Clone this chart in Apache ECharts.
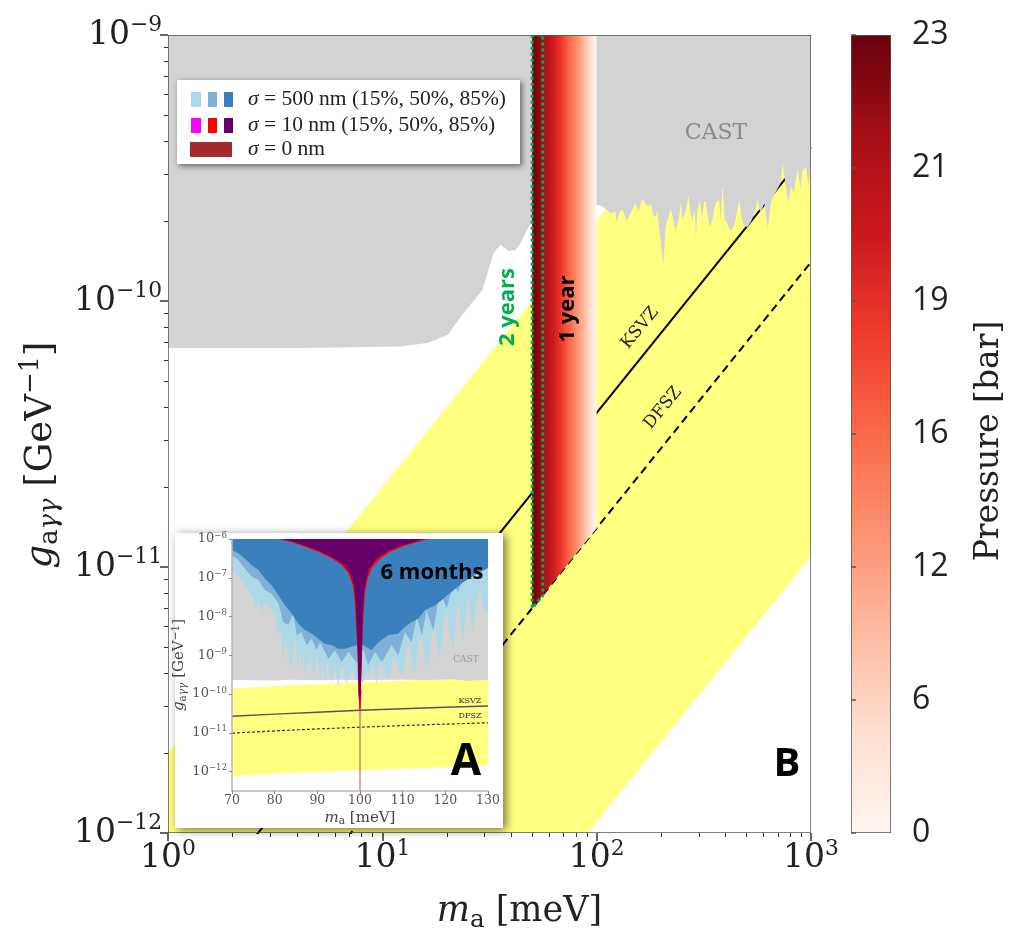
<!DOCTYPE html>
<html>
<head>
<meta charset="utf-8">
<title>Axion limits</title>
<script src="https://cdn.jsdelivr.net/npm/echarts@6/dist/echarts.min.js"></script>
<style>
html, body { margin: 0; padding: 0; background: #fff; }
#chart { width: 1014px; height: 939px; }
</style>
</head>
<body>
<div id="chart"></div>
<script>
"use strict";
// main panel (B): ma in meV, g in 1/GeV
var axionMass = [1, 1000];
var ksvzG = [3.8e-13, 3.8e-10];
var dfszG = [1.4e-13, 1.4e-10];
var bandUpperG = [2e-12, 2e-9];
var bandLowerG = [1.1e-14, 1.1e-11];

// CAST limit, read as decades off the log axes
var castLogMass = [0, 0.617, 1.084, 1.21, 1.304, 1.379, 1.467, 1.495, 1.519, 1.551, 1.589, 1.621, 1.645, 1.682, 1.7, 2.0,
    2.011, 2.027, 2.055, 2.07, 2.086, 2.093, 2.108, 2.123, 2.139, 2.159, 2.179, 2.195, 2.213, 2.229, 2.245, 2.252, 2.263, 2.276, 2.283, 2.291, 2.311, 2.322, 2.346, 2.369, 2.385, 2.393, 2.4, 2.419, 2.428, 2.439, 2.447, 2.458, 2.463, 2.47, 2.481, 2.491, 2.502,
    2.509, 2.517, 2.525, 2.541, 2.548, 2.559, 2.572, 2.579, 2.587, 2.598, 2.607, 2.618, 2.626, 2.642, 2.657, 2.665, 2.676, 2.688, 2.704, 2.72, 2.743, 2.751, 2.763, 2.782, 2.798, 2.813, 2.836, 2.857, 2.868, 2.879, 2.894, 2.907, 2.919, 2.938, 2.95, 2.961, 2.977, 2.988, 3];
var castLogG = [-10.177, -10.177, -10.171, -10.158, -10.128, -10.045, -9.959, -9.883, -9.82, -9.789, -9.812, -9.808, -9.782, -9.722, -9.7, -9.64,
    -9.639, -9.643, -9.664, -9.67, -9.662, -9.702, -9.664, -9.658, -9.699, -9.67, -9.633, -9.662, -9.617, -9.635, -9.645, -9.633, -9.677, -9.683, -9.658, -9.72, -9.865, -9.72, -9.652, -9.739, -9.683, -9.627, -9.696, -9.652, -9.602, -9.67, -9.698, -9.658, -9.761, -9.664, -9.62, -9.689, -9.623,
    -9.627, -9.67, -9.721, -9.696, -9.652, -9.627, -9.62, -9.702, -9.564, -9.696, -9.702, -9.727, -9.739, -9.714, -9.658, -9.62, -9.683, -9.721, -9.721, -9.702, -9.652, -9.614, -9.67, -9.633, -9.727, -9.627, -9.589, -9.558, -9.482, -9.551, -9.63, -9.57, -9.595, -9.501, -9.576, -9.507, -9.495, -9.568, -9.489];

// 1 year strip and 2 years outline
var stripMass = [50, 56.25, 62.5, 68.75, 75, 81.25, 87.5, 93.75, 100];
var stripColors = ['#67000d', '#a50f15', '#cb181d', '#ef3b2c', '#fb6a4a', '#fc9272', '#fcbba1', '#fee0d2', '#fff5f0'];
var stripFloorG = [7e-12, 1.4e-11];
var twoYearMass = [50, 56];
var twoYearFloorG = [7e-12, 7.8e-12];

// colour bar
var pressureTicks = ['0', '6', '12', '16', '19', '21', '23'];

// inset panel (A)
var insetMass = [70, 80, 90, 100, 110, 120, 130];
var insetKsvzG = [2.66e-11, 3.04e-11, 3.42e-11, 3.8e-11, 4.18e-11, 4.56e-11, 4.94e-11];
var insetDfszG = [0.98e-11, 1.12e-11, 1.26e-11, 1.4e-11, 1.54e-11, 1.68e-11, 1.82e-11];
var insetBandUpperG = [1.4e-10, 1.6e-10, 1.8e-10, 2e-10, 2.2e-10, 2.4e-10, 2.6e-10];
var insetBandLowerG = [0.77e-12, 0.88e-12, 0.99e-12, 1.1e-12, 1.21e-12, 1.32e-12, 1.43e-12];
var insetCastMass = [70, 80, 84, 90, 95, 100, 110, 116, 122, 125, 130];
var insetCastLogG = [-9.64, -9.65, -9.63, -9.645, -9.63, -9.64, -9.63, -9.635, -9.62, -9.655, -9.63];

var light500Mass = [70, 71.5, 73, 74.6, 75.8, 76.2, 77, 77.7, 78.9, 80.1, 80.9, 81.2, 81.7, 82, 82.4, 82.9, 83.2, 83.6, 84, 84.4, 84.8, 85.2, 85.5, 86, 86.3, 86.7, 87.1, 87.6, 88, 88.3, 88.8, 89.4, 89.8, 90.2, 90.7, 91.2, 91.8, 92.2, 92.6, 93.2, 93.7, 94.3, 94.9, 95.5, 96.1, 96.7, 97.3, 98.2, 99.2,
    100.8, 101.5, 102.3, 103.1, 103.9, 104.7, 105.5, 106.2, 107, 107.8, 108.6, 109.4, 110.2, 111, 111.7, 112.3, 112.9, 113.7, 114.5, 115.2, 116, 116.8, 117.6, 118.2, 118.7, 119.5, 120.3, 121.1, 121.9, 122.5, 123, 123.6, 124.2, 124.8, 125.4, 126, 126.5, 127.3, 128.1, 129, 130];
var light500LogG = [-6.8, -6.97, -7.19, -7.45, -7.79, -7.58, -7.92, -7.62, -7.79, -7.97, -8.57, -8.22, -8.7, -9.17, -8.6, -8.9, -8.83, -9.3, -9.26, -8.7, -8.48, -9.1, -9.52, -8.9, -9.4, -8.91, -9.6, -9, -9.4, -8.83, -9.3, -9.52, -9, -9.17, -9.6, -9.2, -9.69, -9.2, -9.26, -9.7, -9.52, -9.3, -9.82, -9.3, -9.34, -9.7, -9.6, -9.4, -9.65,
    -9.69, -9.4, -9.52, -9.2, -9.73, -9.1, -9.34, -9.55, -9.6, -9, -9.17, -9.45, -9.52, -8.7, -8.83, -9.3, -9.47, -8.7, -8.48, -9.1, -9.3, -8.4, -8.23, -8.8, -9.08, -8.3, -7.79, -8.5, -8.83, -8, -7.58, -8.2, -8.57, -7.9, -7.45, -8.1, -8.4, -7.6, -7.36, -7.8, -7.97];
var mid500Mass = [70, 71.5, 73, 74.6, 76.2, 77.7, 79.3, 80.9, 82, 83.2, 84.4, 85.2, 86.3, 87.5, 88.7, 89.8, 90.6, 92.6, 94.1, 95.7, 97.3, 99.2,
    100.8, 101.9, 103.5, 105.1, 107.4, 109, 110.5, 112.1, 113.3, 114.5, 115.6, 117.2, 118.7, 120.3, 121.9, 123, 124.6, 126.2, 127.7, 130];
var mid500LogG = [-6.41, -6.54, -6.76, -6.97, -7.06, -7.32, -7.41, -7.66, -8.14, -8.22, -7.92, -8.48, -8.4, -8.74, -8.57, -8.87, -8.66, -9.09, -8.87, -9.17, -8.91, -9.2,
    -8.83, -9.26, -8.91, -9.17, -8.74, -9, -8.4, -8.66, -8, -8.48, -7.84, -8.36, -7.32, -7.79, -7.15, -7.36, -6.85, -7.05, -6.5, -6.55];
var dark500Mass = [70, 71.5, 73, 74.6, 76.2, 77.7, 79.3, 80.9, 82.4, 84, 85.5, 87.1, 88.7, 90.2, 91.8, 93.4, 94.9, 96.5, 98, 99.2,
    100.8, 102.7, 104.3, 106.6, 109, 110.5, 112.1, 113.7, 115.2, 117.6, 119.1, 121.5, 123.8, 126.2, 130];
var dark500LogG = [-6.29, -6.37, -6.5, -6.67, -6.8, -7.02, -7.19, -7.45, -7.71, -7.92, -8.18, -8.35, -8.44, -8.57, -8.7, -8.74, -8.83, -8.83, -8.78, -8.74,
    -8.74, -8.87, -8.66, -8.48, -8.44, -8.27, -8.14, -8.05, -7.84, -7.71, -7.58, -7.36, -7.15, -6.97, -6.75];
var funnelMass = [80.86, 84, 87.1, 90.2, 93.4, 95.7, 97.3, 98.3, 98.8, 99.1, 99.4, 99.5, 99.6, 99.9, 100.1, 100.2, 100.4, 100.55, 100.8, 101.2, 101.8, 102.7, 104.7, 107.4, 110.5, 113.7, 116];
var funnelLogG = [-6, -6.087, -6.199, -6.328, -6.5, -6.673, -6.888, -7.19, -7.621, -8.311, -8.914, -9.518, -9.949, -10.42, -10.42, -9.949, -9.345, -8.742, -7.966, -7.362, -7.018, -6.759, -6.5, -6.311, -6.173, -6.069, -6];
var coreMass = [81.8, 84.8, 87.8, 90.9, 94, 96.2, 97.7, 98.6, 99, 99.25, 99.5, 99.6, 99.7, 99.95, 100.05, 100.15, 100.3, 100.45, 100.65, 101, 101.5, 102.2, 104, 106.6, 109.7, 112.8, 115];
var coreLogG = [-6, -6.087, -6.199, -6.328, -6.5, -6.673, -6.888, -7.19, -7.621, -8.311, -8.914, -9.518, -9.949, -10.18, -10.18, -9.949, -9.345, -8.742, -7.966, -7.362, -7.018, -6.759, -6.5, -6.311, -6.173, -6.069, -6];
var tipMass = [99.6, 100, 100.4];
var tipLogG = [-9.9, -10.55, -9.9];
var zeroWidthG = [1e-6, 3.2e-13];

var MAIN_TICKS_X = [1, 10, 100, 1000];
var MAIN_TICKS_Y = [1e-12, 1e-11, 1e-10, 1e-9];
var MINOR_X = [2, 3, 4, 5, 6, 7, 8, 9, 20, 30, 40, 50, 60, 70, 80, 90, 200, 300, 400, 500, 600, 700, 800, 900];
var MINOR_Y = [2e-12, 3e-12, 4e-12, 5e-12, 6e-12, 7e-12, 8e-12, 9e-12, 2e-11, 3e-11, 4e-11, 5e-11, 6e-11, 7e-11, 8e-11, 9e-11, 2e-10, 3e-10, 4e-10, 5e-10, 6e-10, 7e-10, 8e-10, 9e-10];
var INSET_TICKS_Y = [1e-12, 1e-11, 1e-10, 1e-9, 1e-8, 1e-7, 1e-6];

var SERIF = '"DejaVu Serif", serif';
var TIMES = '"Liberation Serif", serif';
var SANS = '"Open Sans", sans-serif';
var INK = '#222';

function pow10(list) {
    return list.map(function (v) { return Math.pow(10, v); });
}

// one closed polygon from lists of values, through the axes of the panel it sits in
function polygon(axisIndex, xs, ys, style, z) {
    return {
        type: 'custom',
        coordinateSystem: 'cartesian2d',
        xAxisIndex: axisIndex,
        yAxisIndex: axisIndex,
        clip: true,
        silent: true,
        z: z,
        data: xs.map(function (x, i) { return [x, ys[i]]; }),
        renderItem: function (params, api) {
            if (params.dataIndex !== 0) return null;
            return {
                type: 'polygon',
                shape: { points: xs.map(function (x, i) { return api.coord([x, ys[i]]); }) },
                style: style
            };
        }
    };
}

function line(axisIndex, xs, ys, color, width, dash, z) {
    return {
        type: 'line',
        xAxisIndex: axisIndex,
        yAxisIndex: axisIndex,
        showSymbol: false,
        silent: true,
        z: z,
        lineStyle: { color: color, width: width, type: dash || 'solid' },
        data: xs.map(function (x, i) { return [x, ys[i]]; })
    };
}

function decadeLabel(v) {
    var e = Math.round(Math.log10(v));
    return '{b|10}{e|' + (e < 0 ? '\u2212' + (-e) : e) + '}';
}

function decadeRich(size, color) {
    return {
        b: { fontFamily: SERIF, fontSize: size, color: color, lineHeight: size * 1.25 },
        e: { fontFamily: SERIF, fontSize: size * 0.66, color: color, verticalAlign: 'top', lineHeight: size * 0.8 }
    };
}

function massRich(size, color) {
    return {
        i: { fontFamily: SERIF, fontStyle: 'italic', fontSize: size, color: color },
        s: { fontFamily: SERIF, fontSize: size * 0.7, color: color, verticalAlign: 'bottom', lineHeight: size * 1.2 },
        r: { fontFamily: SERIF, fontSize: size, color: color }
    };
}

function couplingRich(size, color) {
    return {
        i: { fontFamily: SERIF, fontStyle: 'italic', fontSize: size, color: color },
        s: { fontFamily: SERIF, fontSize: size * 0.7, color: color, verticalAlign: 'bottom', lineHeight: size * 1.2 },
        si: { fontFamily: SERIF, fontStyle: 'italic', fontSize: size * 0.7, color: color, verticalAlign: 'bottom', lineHeight: size * 1.2 },
        r: { fontFamily: SERIF, fontSize: size, color: color },
        u: { fontFamily: SERIF, fontSize: size * 0.7, color: color, verticalAlign: 'top', lineHeight: size * 1.2 }
    };
}

var MASS_NAME = '{i|m}{s|a}{r|\u00a0[meV]}';
var COUPLING_NAME = '{i|g}{s|a}{si|\u03b3\u03b3}{r|\u00a0[GeV}{u|\u22121}{r|]}';

function hiddenAxis(gridIndex, type, extra) {
    return Object.assign({
        gridIndex: gridIndex,
        type: type,
        axisLine: { show: false },
        axisTick: { show: false },
        axisLabel: { show: false },
        splitLine: { show: false },
        minorTick: { show: false },
        minorSplitLine: { show: false }
    }, extra);
}

var legendText = [
    { text: '{i|\u03c3} = 500 nm (15%, 50%, 85%)', y: 99 },
    { text: '{i|\u03c3} = 10 nm (15%, 50%, 85%)', y: 125 },
    { text: '{i|\u03c3} = 0 nm', y: 149 }
];
var legendSwatches = [
    { x: 191, y: 92, w: 10, h: 15, c: '#add8e6' },
    { x: 208, y: 92, w: 9, h: 15, c: '#7fb0d8' },
    { x: 224, y: 92, w: 9, h: 15, c: '#3a80bd' },
    { x: 191, y: 118, w: 10, h: 15, c: '#ff00ff' },
    { x: 208, y: 118, w: 9, h: 15, c: '#ff0000' },
    { x: 224, y: 118, w: 9, h: 15, c: '#660066' },
    { x: 190, y: 142, w: 42, h: 15, c: '#a52a2a' }
];

function label(text, x, y, font, color, rotation, z) {
    return {
        type: 'text',
        x: x,
        y: y,
        rotation: rotation || 0,
        z: z || 13,
        silent: true,
        style: {
            text: text,
            fill: color,
            font: font,
            align: 'center',
            verticalAlign: 'middle'
        }
    };
}

var myChart = echarts.init(document.getElementById('chart'), null, { renderer: 'canvas' });

var graphicElements = [
    // inset sheet
    { type: 'rect', silent: true, z: 5, shape: { x: 175, y: 533, width: 328, height: 295 },
      style: { fill: '#fff', shadowBlur: 9, shadowOffsetX: 3, shadowOffsetY: 2, shadowColor: 'rgba(0,0,0,0.55)' } },
    // legend sheet
    { type: 'rect', silent: true, z: 11, shape: { x: 177, y: 80, width: 343, height: 84 },
      style: { fill: '#fff', shadowBlur: 6, shadowOffsetX: 2, shadowOffsetY: 2, shadowColor: 'rgba(0,0,0,0.55)' } }
];
legendSwatches.forEach(function (s) {
    graphicElements.push({ type: 'rect', silent: true, z: 12, shape: { x: s.x, y: s.y, width: s.w, height: s.h }, style: { fill: s.c } });
});
legendText.forEach(function (t) {
    graphicElements.push({
        type: 'text', silent: true, z: 12, x: 248, y: t.y,
        style: {
            text: t.text, fill: '#222', font: '21.5px ' + TIMES, align: 'left', verticalAlign: 'middle',
            rich: { i: { fontFamily: TIMES, fontStyle: 'italic', fontSize: 21.5, fill: '#222', color: '#222' } }
        }
    });
});
graphicElements.push(
    label('CAST', 716, 133, '22px ' + SERIF, '#8a8a8a', 0, 4),
    label('KSVZ', 640, 328, '17px ' + SERIF, '#222', 0.88, 4),
    label('DFSZ', 663, 408, '17px ' + SERIF, '#222', 0.88, 4),
    label('2 years', 508, 307, 'bold 22px ' + SANS, '#00b050', Math.PI / 2, 4),
    label('1 year', 568, 309, 'bold 22px ' + SANS, '#000', Math.PI / 2, 4),
    label('6 months', 432, 573, 'bold 22px ' + SANS, '#000', 0, 13),
    label('A', 466, 762, 'bold 44px ' + SANS, '#000', 0, 13),
    label('B', 787, 765, 'bold 40px ' + SANS, '#000', 0, 13),
    label('CAST', 466, 660, '9px ' + SERIF, '#9a9a9a', 0, 13),
    label('KSVZ', 470, 701, '8px ' + SERIF, '#333', 0, 13),
    label('DFSZ', 470, 716, '8px ' + SERIF, '#333', 0, 13)
);

var stripStops = stripMass.map(function (m, i) {
    var last = stripMass.length - 1;
    return {
        offset: Math.log(m / stripMass[0]) / Math.log(stripMass[last] / stripMass[0]),
        color: stripColors[i]
    };
});
var barStops = stripColors.map(function (c, i) {
    return { offset: i / (stripColors.length - 1), color: c };
});

var castMass = pow10(castLogMass);
var castG = pow10(castLogG);

var option = {
    animation: false,
    backgroundColor: '#fff',
    grid: [
        { left: 168, top: 35, width: 643, height: 798 },
        { left: 232, top: 539, width: 256, height: 252 },
        { left: 851, top: 35, width: 40, height: 798 }
    ],
    xAxis: [
        {
            gridIndex: 0, type: 'log', logBase: 10, min: 1, max: 1000, z: 3, position: 'bottom',
            name: MASS_NAME, nameLocation: 'middle', nameGap: 58,
            nameTextStyle: { rich: massRich(35, INK), padding: [0, 0, 0, 60] },
            axisLine: { show: false },
            axisTick: { customValues: MAIN_TICKS_X, length: 8, lineStyle: { color: '#333', width: 1.5 } },
            axisLabel: { customValues: MAIN_TICKS_X, margin: 5, formatter: decadeLabel, rich: decadeRich(33, INK) },
            splitLine: { show: false }
        },
        hiddenAxis(0, 'log', {
            logBase: 10, min: 1, max: 1000, z: 3, position: 'bottom',
            axisTick: { show: true, customValues: MINOR_X, length: 4, lineStyle: { color: '#333', width: 1 } }
        }),
        {
            gridIndex: 1, type: 'value', min: 70, max: 130, interval: 10, z: 9, position: 'bottom',
            name: MASS_NAME, nameLocation: 'middle', nameGap: 18,
            nameTextStyle: { rich: massRich(15, '#444') },
            axisLine: { lineStyle: { color: '#b5b5b5', width: 1.5 } },
            axisTick: { length: 3, lineStyle: { color: '#888' } },
            axisLabel: { margin: 3, fontFamily: SERIF, fontSize: 12.5, color: '#555' },
            splitLine: { show: false }
        },
        hiddenAxis(2, 'value', { min: 0, max: 1, position: 'bottom' })
    ],
    yAxis: [
        {
            gridIndex: 0, type: 'log', logBase: 10, min: 1e-12, max: 1e-9, z: 3, position: 'left',
            name: COUPLING_NAME, nameLocation: 'middle', nameGap: 101, nameRotate: 90,
            nameTextStyle: { rich: couplingRich(37, INK), padding: [0, 0, 0, -42] },
            axisLine: { show: false },
            axisTick: { customValues: MAIN_TICKS_Y, length: 8, lineStyle: { color: '#333', width: 1.5 } },
            axisLabel: { customValues: MAIN_TICKS_Y, margin: 6, formatter: decadeLabel, rich: decadeRich(33, INK) },
            splitLine: { show: false }
        },
        hiddenAxis(0, 'log', {
            logBase: 10, min: 1e-12, max: 1e-9, z: 3, position: 'left',
            axisTick: { show: true, customValues: MINOR_Y, length: 4, lineStyle: { color: '#333', width: 1 } }
        }),
        {
            gridIndex: 1, type: 'log', logBase: 10, min: Math.pow(10, -12.5), max: 1e-6, z: 9, position: 'left',
            name: COUPLING_NAME, nameLocation: 'middle', nameGap: 28, nameRotate: 90,
            nameTextStyle: { rich: couplingRich(15, '#444') },
            axisLine: { lineStyle: { color: '#b5b5b5', width: 1.5 } },
            axisTick: { customValues: INSET_TICKS_Y, length: 3, lineStyle: { color: '#888' } },
            axisLabel: { customValues: INSET_TICKS_Y, margin: 5, formatter: decadeLabel, rich: decadeRich(13, '#555') },
            splitLine: { show: false }
        },
        {
            gridIndex: 2, type: 'category', position: 'right', boundaryGap: false, data: pressureTicks, z: 3,
            name: 'Pressure [bar]', nameLocation: 'middle', nameGap: 82, nameRotate: 90,
            nameTextStyle: { fontFamily: SERIF, fontSize: 33, color: INK, padding: [0, 0, 0, -14] },
            axisLine: { show: false },
            axisTick: { alignWithLabel: true, length: 5, lineStyle: { color: '#555', width: 1.5 } },
            axisLabel: { interval: 0, margin: 21, fontFamily: SANS, fontSize: 32, color: INK },
            splitLine: { show: false }
        }
    ],
    graphic: { elements: graphicElements },
    series: [
        // main panel, back to front
        polygon(0, [axionMass[0], axionMass[1], axionMass[1], axionMass[0]],
            [bandUpperG[0], bandUpperG[1], bandLowerG[1], bandLowerG[0]], { fill: '#ffff80' }, 1),
        line(0, axionMass, ksvzG, '#000', 2, 'solid', 2),
        line(0, axionMass, dfszG, '#000', 2, [8, 5], 2),
        polygon(0, castMass.concat([1000, 1]), castG.concat([1e-9, 1e-9]), { fill: '#d3d3d3' }, 3),
        polygon(0, [50, 100, 100, 50], [1e-9, 1e-9, stripFloorG[1], stripFloorG[0]], {
            fill: new echarts.graphic.LinearGradient(0, 0, 1, 0, stripStops)
        }, 3),
        polygon(0, [twoYearMass[0], twoYearMass[1], twoYearMass[1], twoYearMass[0]], [1e-9, 1e-9, twoYearFloorG[1], twoYearFloorG[0]], {
            fill: 'none', stroke: '#00b050', lineWidth: 3, lineDash: [3, 3]
        }, 3),
        polygon(0, [1, 1000, 1000, 1], [1e-12, 1e-12, 1e-9, 1e-9], { fill: 'none', stroke: '#555', lineWidth: 1.5 }, 3),

        // inset panel, back to front
        polygon(2, insetMass.concat(insetMass.slice().reverse()),
            insetBandUpperG.concat(insetBandLowerG.slice().reverse()), { fill: '#ffff80' }, 6),
        line(2, insetMass, insetKsvzG, '#555', 1.5, 'solid', 6),
        line(2, insetMass, insetDfszG, '#333', 1.2, [3, 2], 6),
        polygon(2, insetCastMass.concat([130, 70]), pow10(insetCastLogG).concat([1e-6, 1e-6]), { fill: '#d3d3d3' }, 7),
        polygon(2, light500Mass.concat([130, 70]), pow10(light500LogG).concat([1e-6, 1e-6]), { fill: '#add8e6' }, 7),
        polygon(2, mid500Mass.concat([130, 70]), pow10(mid500LogG).concat([1e-6, 1e-6]), { fill: '#7fb0d8' }, 7),
        polygon(2, dark500Mass.concat([130, 70]), pow10(dark500LogG).concat([1e-6, 1e-6]), { fill: '#3a80bd' }, 7),
        line(2, [100, 100], zeroWidthG, 'rgba(190,50,70,0.6)', 1.5, 'solid', 7),
        polygon(2, tipMass, pow10(tipLogG), { fill: '#ff00ff' }, 8),
        polygon(2, funnelMass, pow10(funnelLogG), { fill: '#ff0000' }, 8),
        polygon(2, coreMass, pow10(coreLogG), { fill: '#660066' }, 8),

        // colour bar
        polygon(3, [0, 1, 1, 0], [0, 0, 6, 6], {
            fill: new echarts.graphic.LinearGradient(0, 0, 0, 1, barStops),
            stroke: '#555', lineWidth: 1.5
        }, 2)
    ]
};
myChart.setOption(option);

window.onresize = function () {
    myChart.resize();
};
</script>
</body>
</html>
